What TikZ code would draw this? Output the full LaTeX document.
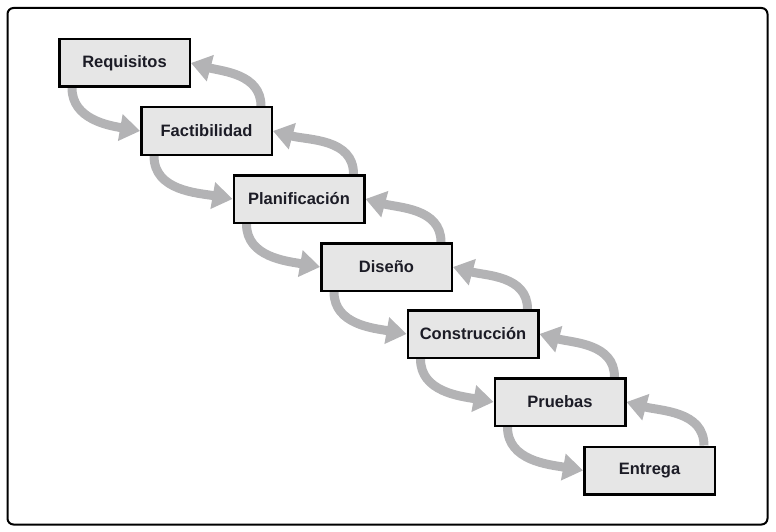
\documentclass[tikz,border=0pt]{standalone}
\usepackage{fontspec}
\setmainfont{Liberation Sans}
\usetikzlibrary{arrows.meta,backgrounds,calc}
\definecolor{boxfill}{HTML}{E6E6E6}
\definecolor{arrowgray}{HTML}{B3B3B5}
\definecolor{textdark}{HTML}{1C1C26}
\tikzset{
  stage/.style={draw=black, line width=2.5pt, fill=boxfill, minimum width=130.5pt,
    minimum height=47.5pt, inner sep=0pt, font=\fontsize{16.5}{18}\selectfont\bfseries, text=textdark},
  flow/.style={draw=arrowgray, line width=9pt, -{Triangle[width=26pt,length=20pt,fill=arrowgray]}},
}
\begin{document}
\begin{tikzpicture}[x=1pt,y=-1pt]
\useasboundingbox (0,0) rectangle (776,532);
\node[stage] (req) at (124.5,63) {Requisitos};
\node[stage] (fac) at (206.5,131) {Factibilidad};
\node[stage] (pla) at (299,199) {Planificación};
\node[stage] (dis) at (386.5,267) {Diseño};
\node[stage] (con) at (473,334) {Construcción};
\node[stage] (pru) at (560,402) {Pruebas};
\node[stage] (ent) at (649.5,470.5) {Entrega};
\begin{scope}[on background layer]
\draw[line width=2pt, rounded corners=6pt] (7.5,8) rectangle (767.5,524.5);
\foreach \a/\b in {req/fac,fac/pla,pla/dis,dis/con,con/pru,pru/ent}{
  \draw[flow] ($(\a.south west)+(14,0)$) to[out=-90,in=170] (\b.west);
  \draw[flow] ($(\b.north east)+(-12,0)$) to[out=90,in=-15] (\a.east);
}
\end{scope}
\end{tikzpicture}
\end{document}
